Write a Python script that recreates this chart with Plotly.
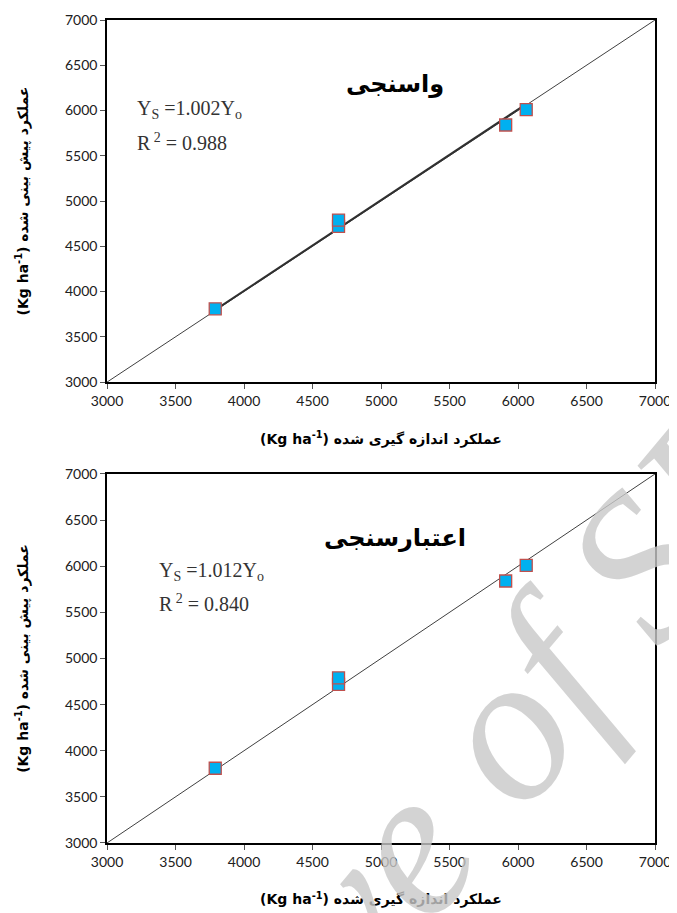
import plotly.graph_objects as go

# data
observed = [3790, 4690, 4690, 5910, 6060]
simulated_cal = [3810, 4720, 4790, 5840, 6010]
simulated_val = [3810, 4720, 4790, 5840, 6010]
one_to_one = [3000, 7000]
slope_cal = 1.002
slope_val = 1.012
r2_cal = 0.988
r2_val = 0.840
tick_vals = [3000, 3500, 4000, 4500, 5000, 5500, 6000, 6500, 7000]
title_cal = "واسنجی"
title_val = "اعتبارسنجی"
xtitle = "(Kg ha<sup>-1</sup>) عملکرد اندازه گیری شده"
ytitle = "(Kg ha<sup>-1</sup>) عملکرد پیش بینی شده"

fig = go.Figure()

panels = [
    ("x", "y", simulated_cal, slope_cal, True),
    ("x2", "y2", simulated_val, slope_val, False),
]
for xa, ya, sim, slope, show_reg in panels:
    fig.add_trace(go.Scatter(x=one_to_one, y=one_to_one, mode="lines",
                             line=dict(color="#404040", width=1),
                             xaxis=xa, yaxis=ya, showlegend=False, hoverinfo="skip"))
    if show_reg:
        xr = [min(observed), max(observed)]
        fig.add_trace(go.Scatter(x=xr, y=[slope * v for v in xr], mode="lines",
                                 line=dict(color="#303030", width=2),
                                 xaxis=xa, yaxis=ya, showlegend=False, hoverinfo="skip"))
    fig.add_trace(go.Scatter(x=observed, y=sim, mode="markers",
                             marker=dict(symbol="square", size=12, color="#00B0F0",
                                         line=dict(color="#C0504D", width=1.3)),
                             xaxis=xa, yaxis=ya, showlegend=False))

tickfont = dict(family="Lato, Carlito, Liberation Sans, sans-serif", size=14, color="#202020")
axis_common = dict(range=[3000, 7000], tickvals=tick_vals, ticks="outside", ticklen=5,
                   tickcolor="#555", showline=True, linecolor="black", linewidth=1.6,
                   mirror=True, showgrid=False, zeroline=False, tickfont=tickfont,
                   automargin=False)
title_font = dict(family="DejaVu Sans, sans-serif", size=14, color="black")

fig.update_layout(
    width=669, height=905,
    paper_bgcolor="white", plot_bgcolor="white",
    margin=dict(l=99, r=22, t=12, b=70),
    xaxis=dict(domain=[0, 1], anchor="y", **axis_common,
               title=dict(text="<b>" + xtitle + "</b>", font=title_font, standoff=26)),
    yaxis=dict(domain=[0.560, 1], anchor="x", **axis_common,
               title=dict(text="<b>" + ytitle + "</b>", font=title_font, standoff=33)),
    xaxis2=dict(domain=[0, 1], anchor="y2", **axis_common,
                title=dict(text="<b>" + xtitle + "</b>", font=title_font, standoff=26)),
    yaxis2=dict(domain=[0, 0.4484], anchor="x2", **axis_common,
                title=dict(text="<b>" + ytitle + "</b>", font=title_font, standoff=33)),
)

eqfont = dict(family="Liberation Serif, Times New Roman, serif", size=20, color="#333")
ann = [
    dict(x=0.56, y=0.008, xref="paper", yref="paper", text="<i>Archive of SID</i>",
         xanchor="center", yanchor="middle",
         textangle=-50, font=dict(family="Liberation Serif, serif", size=210, color="rgba(200,200,200,0.8)"),
         showarrow=False),
    dict(x=5100, y=6290, xref="x", yref="y", text="<b>" + title_cal + "</b>",
         font=dict(family="DejaVu Sans, sans-serif", size=24, color="black"), showarrow=False),
    dict(x=3204, y=6006, xref="x", yref="y", xanchor="left",
         text=f"Y<sub>S</sub> =1.{int(round((slope_cal-1)*1000)):03d}Y<sub>o</sub>",
         font=eqfont, showarrow=False),
    dict(x=3204, y=5652, xref="x", yref="y", xanchor="left",
         text=f"R<sup> 2</sup> = {r2_cal:.3f}", font=eqfont, showarrow=False),
    dict(x=5100, y=6306, xref="x2", yref="y2", text="<b>" + title_val + "</b>",
         font=dict(family="DejaVu Sans, sans-serif", size=24, color="black"), showarrow=False),
    dict(x=3365, y=5938, xref="x2", yref="y2", xanchor="left",
         text=f"Y<sub>S</sub> =1.{int(round((slope_val-1)*1000)):03d}Y<sub>o</sub>",
         font=eqfont, showarrow=False),
    dict(x=3365, y=5602, xref="x2", yref="y2", xanchor="left",
         text=f"R<sup> 2</sup> = {r2_val:.3f}", font=eqfont, showarrow=False),
]
fig.update_layout(annotations=ann)

fig.write_html("out.html")
